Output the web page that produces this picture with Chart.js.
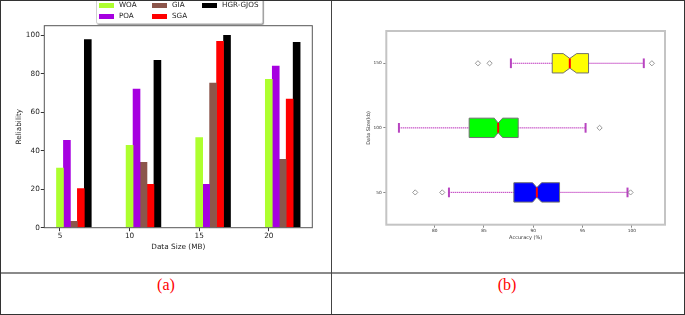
<!DOCTYPE html>
<html>
<head>
<meta charset="utf-8">
<script src="https://cdn.jsdelivr.net/npm/chart.js@4.4.1/dist/chart.umd.min.js"></script>
<style>
  html, body { margin: 0; padding: 0; background: #fff; }
  #page { position: relative; width: 685px; height: 315px; overflow: hidden; font-family: "DejaVu Sans", sans-serif; }
  canvas { position: absolute; top: 0; }
  .line { position: absolute; }
  .legend { position: absolute; left: 96px; top: -6px; width: 165px; height: 28px; border: 1px solid #d0d0d0;
            border-radius: 2px; background: #fff; box-shadow: 1px 1px 1px #999; }
  .item { position: absolute; font-size: 7.2px; color: #222; line-height: 8px; white-space: nowrap; }
  .item i { position: absolute; left: -20px; top: 1.5px; width: 14.5px; height: 5px; }
  .cap { position: absolute; top: 276px; font-family: "Liberation Serif", serif; font-size: 16px; color: #ff0000;
         width: 60px; text-align: center; }
</style>
</head>
<body>
<div id="page">
  <canvas id="bars" width="331" height="272" style="left:0"></canvas>
  <canvas id="boxes" width="352" height="272" style="left:332px"></canvas>
  <div class="legend"></div>
  <div id="legendItems"></div>
  <div class="cap" style="left:136px">(a)</div>
  <div class="cap" style="left:477px">(b)</div>
  <div class="line" style="left:0;top:272px;width:685px;height:2px;background:#8a8a8a"></div>
  <div class="line" style="left:331px;top:0;width:1px;height:315px;background:#444"></div>
  <div class="line" style="left:0;top:0;width:683px;height:313px;border:1px solid #333"></div>
</div>
<script>
// ---- panel (a): reliability vs data size ----
const sizes = [5, 10, 15, 20];
const woa = [31.0, 42.8, 46.8, 77.1];
const poa = [45.4, 72.1, 22.5, 84.0];
const gia = [3.3, 34.0, 75.2, 35.5];
const sga = [20.3, 22.5, 96.9, 66.9];
const hgr = [97.8, 87.0, 100, 96.4];
const algoNames = ['WOA', 'POA', 'GIA', 'SGA', 'HGR-GJOS'];
const algoColors = ['#adff2f', '#a600e0', '#8c564b', '#ff0000', '#000000'];
const reliabilityTicks = [0, 20, 40, 60, 80, 100];

// ---- panel (b): accuracy box plot ----
const boxSizes = [50, 100, 150];
const boxColors = ['#0000ff', '#00ff00', '#ffff00'];
const q1 = [88.03, 83.5, 91.92];
const median = [90.36, 86.44, 93.7];
const q3 = [92.66, 88.47, 95.6];
const notchLo = [89.93, 86.04, 93.03];
const notchHi = [90.84, 86.89, 94.39];
const whiskerLo = [81.45, 76.38, 87.73];
const whiskerHi = [99.55, 95.3, 101.2];
const outliers = [[78.03, 80.77, 99.86], [96.72], [84.39, 85.57, 102.02]];
const accuracyTicks = [80, 85, 90, 95, 100];

const BOX_WIDTH = 15;
const BAR_STEP = 0.5;

Chart.defaults.font.family = '"DejaVu Sans", sans-serif';
Chart.defaults.animation = false;

// draws the 4-sided axes frame like matplotlib spines
const framePlugin = {
  id: 'frame',
  afterDraw(chart, args, opts) {
    const { ctx, chartArea: a } = chart;
    ctx.save();
    ctx.strokeStyle = opts.color;
    ctx.lineWidth = opts.width;
    ctx.strokeRect(a.left, a.top, a.right - a.left, a.bottom - a.top);
    ctx.restore();
  }
};

// notched horizontal box plot drawn through the chart's scales
const boxPlugin = {
  id: 'notchBox',
  beforeDatasetsDraw(chart) {
    const { ctx, scales: { x, y } } = chart;
    const px = v => x.getPixelForValue(v);
    const py = v => y.getPixelForValue(v);
    ctx.save();
    boxSizes.forEach((pos, i) => {
      const yc = py(pos);
      const half = Math.abs(py(pos + BOX_WIDTH / 2) - yc);
      const quarter = half / 2;
      // whiskers
      [[whiskerLo[i], q1[i]], [q3[i], whiskerHi[i]]].forEach(([a, b]) => {
        ctx.setLineDash([]);
        ctx.strokeStyle = 'rgba(215,120,215,0.45)';
        ctx.lineWidth = 1.2;
        ctx.beginPath(); ctx.moveTo(px(a), yc); ctx.lineTo(px(b), yc); ctx.stroke();
        ctx.setLineDash([1, 1]);
        ctx.strokeStyle = 'rgba(190,60,190,0.9)';
        ctx.lineWidth = 1;
        ctx.beginPath(); ctx.moveTo(px(a), yc); ctx.lineTo(px(b), yc); ctx.stroke();
      });
      ctx.setLineDash([]);
      // caps
      ctx.strokeStyle = '#b844c0';
      ctx.lineWidth = 2;
      [whiskerLo[i], whiskerHi[i]].forEach(v => {
        ctx.beginPath(); ctx.moveTo(px(v), yc - quarter); ctx.lineTo(px(v), yc + quarter); ctx.stroke();
      });
      // box
      ctx.beginPath();
      ctx.moveTo(px(q1[i]), yc - half);
      ctx.lineTo(px(notchLo[i]), yc - half);
      ctx.lineTo(px(median[i]), yc - quarter);
      ctx.lineTo(px(notchHi[i]), yc - half);
      ctx.lineTo(px(q3[i]), yc - half);
      ctx.lineTo(px(q3[i]), yc + half);
      ctx.lineTo(px(notchHi[i]), yc + half);
      ctx.lineTo(px(median[i]), yc + quarter);
      ctx.lineTo(px(notchLo[i]), yc + half);
      ctx.lineTo(px(q1[i]), yc + half);
      ctx.closePath();
      ctx.fillStyle = boxColors[i];
      ctx.fill();
      ctx.strokeStyle = '#707070';
      ctx.lineWidth = 1;
      ctx.stroke();
      // median
      ctx.strokeStyle = '#ff0000';
      ctx.lineWidth = 2;
      ctx.beginPath(); ctx.moveTo(px(median[i]), yc - quarter); ctx.lineTo(px(median[i]), yc + quarter); ctx.stroke();
    });
    ctx.restore();
  }
};

const setTicks = values => scale => { scale.ticks = values.map(v => ({ value: v })); };

// ---- chart (a) ----
new Chart(document.getElementById('bars'), {
  type: 'bar',
  data: {
    datasets: algoNames.map((name, i) => ({
      label: name,
      data: sizes.map((s, j) => ({ x: s + i * BAR_STEP, y: [woa, poa, gia, sga, hgr][i][j] })),
      backgroundColor: algoColors[i],
      borderWidth: 0,
      grouped: false,
      barPercentage: 1,
      categoryPercentage: 1
    }))
  },
  options: {
    responsive: false,
    layout: { padding: { top: 25.7, right: 18.7, left: 0, bottom: 0 } },
    plugins: { legend: { display: false }, tooltip: { enabled: false },
               frame: { color: '#555', width: 1 } },
    scales: {
      x: {
        type: 'linear', min: 3.875, max: 23.125, offset: false,
        afterBuildTicks: setTicks(sizes),
        afterFit: s => { s.height = 44.3; },
        grid: { display: true, drawOnChartArea: false, offset: false, tickLength: 3.5, color: '#333' },
        border: { display: false },
        ticks: { font: { size: 7.3 }, color: '#222', padding: 1 },
        title: { display: true, text: 'Data Size (MB)', font: { size: 7.3 }, color: '#222',
                 padding: { top: 0, bottom: 20.9 } }
      },
      y: {
        min: 0, max: 105,
        afterBuildTicks: setTicks(reliabilityTicks),
        afterFit: s => { s.width = 44.3; },
        grid: { display: true, drawOnChartArea: false, tickLength: 3.5, color: '#333' },
        border: { display: false },
        ticks: { font: { size: 7.3 }, color: '#222', padding: 1 },
        title: { display: true, text: 'Reliability', font: { size: 7.3 }, color: '#222',
                 padding: { top: 14.3, bottom: 0 } }
      }
    }
  },
  plugins: [framePlugin]
});

// HTML legend in matplotlib's column order (3 columns x 2 rows)
const legendPos = [[119, 1], [119, 12], [172, 1], [172, 12], [222, 1]];
document.getElementById('legendItems').innerHTML = algoNames.map((name, i) =>
  `<div class="item" style="left:${legendPos[i][0]}px;top:${legendPos[i][1]}px">` +
  `<i style="background:${algoColors[i]}"></i>${name}</div>`).join('');

// ---- chart (b) ----
new Chart(document.getElementById('boxes'), {
  type: 'scatter',
  data: {
    datasets: [{
      label: 'outliers',
      data: outliers.flatMap((list, i) => list.map(v => ({ x: v, y: boxSizes[i] }))),
      pointStyle: 'rectRot',
      pointRadius: 2.6,
      borderWidth: 0.8,
      borderColor: '#808080',
      backgroundColor: 'rgba(255,255,255,0)'
    }]
  },
  options: {
    responsive: false,
    layout: { padding: { top: 31, right: 19, left: 0, bottom: 0 } },
    plugins: { legend: { display: false }, tooltip: { enabled: false },
               frame: { color: '#c4c4c4', width: 2 } },
    scales: {
      x: {
        type: 'linear', min: 75.1, max: 103.35,
        afterBuildTicks: setTicks(accuracyTicks),
        afterFit: s => { s.height = 47.3; },
        grid: { display: true, drawOnChartArea: false, tickLength: 3, color: '#888' },
        border: { display: false },
        ticks: { font: { size: 4.3 }, color: '#333', padding: 1 },
        title: { display: true, text: 'Accuracy (%)', font: { size: 5 }, color: '#333',
                 padding: { top: 0, bottom: 31.7 } }
      },
      y: {
        type: 'linear', min: 25, max: 175,
        afterBuildTicks: setTicks(boxSizes),
        afterFit: s => { s.width = 54.3; },
        grid: { display: true, drawOnChartArea: false, tickLength: 3, color: '#888' },
        border: { display: false },
        ticks: { font: { size: 4.3 }, color: '#333', padding: 1.5 },
        title: { display: true, text: 'Data Size(kb)', font: { size: 5 }, color: '#333',
                 padding: { top: 33.7, bottom: 0 } }
      }
    }
  },
  plugins: [boxPlugin, framePlugin]
});
</script>
</body>
</html>
